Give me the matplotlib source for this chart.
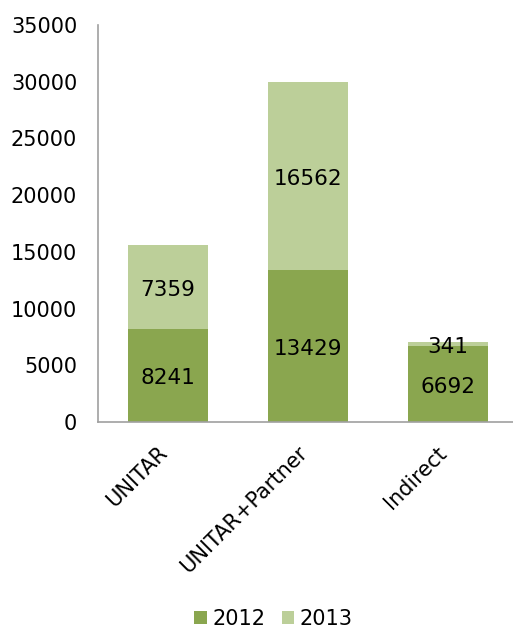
import matplotlib
matplotlib.use("Agg")
import matplotlib.pyplot as plt
from matplotlib.transforms import ScaledTranslation
import numpy as np

categories = ["UNITAR", "UNITAR+Partner", "Indirect"]
v2012 = [8241, 13429, 6692]
v2013 = [7359, 16562, 341]
series_names = ["2012", "2013"]
yticks = [0, 5000, 10000, 15000, 20000, 25000, 30000, 35000]

c2012 = "#8aa64f"
c2013 = "#bccf99"

fig = plt.figure(figsize=(5.13, 6.28), dpi=100)
ax = fig.add_axes([98/513, 206/628, 420/513, 397/628])
x = np.arange(len(categories))
w = 0.57
b1 = ax.bar(x, v2012, w, color=c2012, label=series_names[0])
b2 = ax.bar(x, v2013, w, bottom=v2012, color=c2013, label=series_names[1])

tr = ax.transData + ScaledTranslation(0, -0.03, fig.dpi_scale_trans)
for i in range(len(categories)):
    ax.text(x[i], v2012[i] / 2, str(v2012[i]), ha="center", va="center",
            fontsize=15.5, transform=tr)
    ax.text(x[i], v2012[i] + v2013[i] / 2, str(v2013[i]), ha="center", va="center",
            fontsize=15.5, transform=tr)

ax.set_xlim(-0.5, 2.5)
ax.set_ylim(0, 35000)
ax.set_yticks(yticks)
ax.set_yticklabels([str(t) for t in yticks], fontsize=15)
ax.set_xticks(x)
ax.set_xticklabels(categories, rotation=45, ha="right", va="baseline",
                   rotation_mode="anchor", fontsize=15)
ax.tick_params(axis="x", length=0, pad=23)
ax.tick_params(axis="y", length=0, pad=15)
for s in ["top", "right"]:
    ax.spines[s].set_visible(False)
for s in ["left", "bottom"]:
    ax.spines[s].set_color("#a0a0a0")
    ax.spines[s].set_linewidth(1.2)

fig.legend(handles=[b1, b2], labels=series_names, loc="center", bbox_to_anchor=(0.533, 9/628),
           ncol=2, frameon=False, fontsize=15, handlelength=0.6, handleheight=0.6,
           handletextpad=0.25, columnspacing=0.8)

fig.savefig("out.png", dpi=100)
